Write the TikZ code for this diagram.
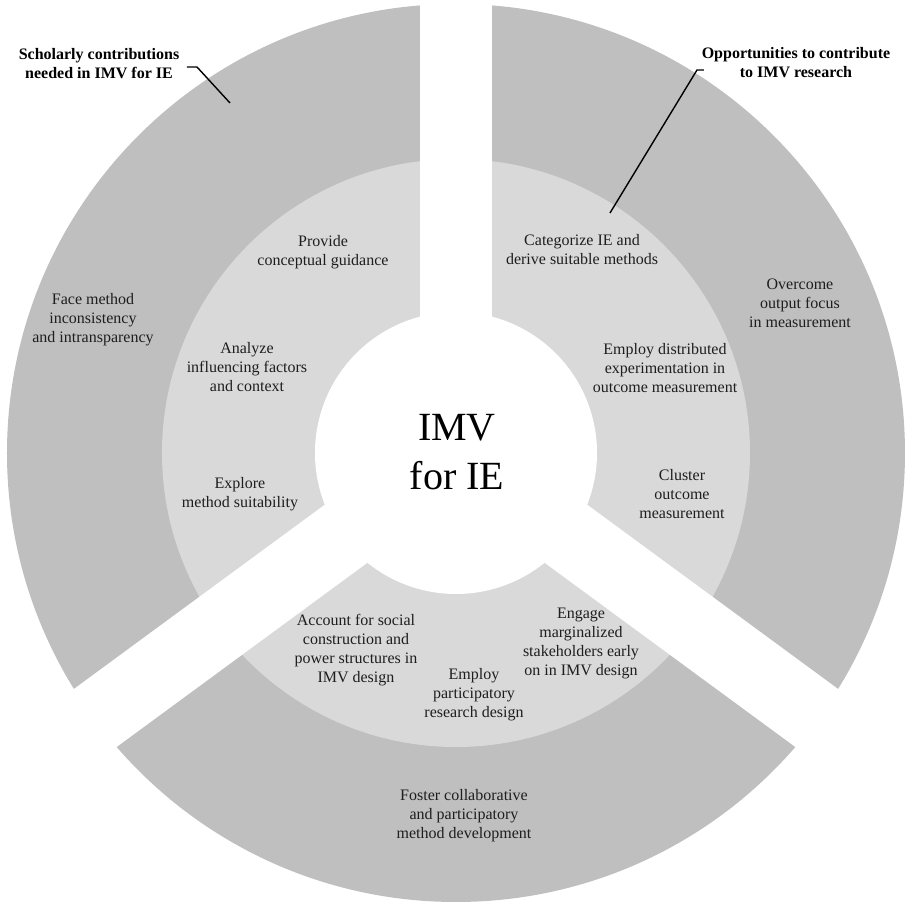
\documentclass[tikz,border=0pt]{standalone}
\usepackage{fontspec}
\setmainfont{Liberation Serif}
\definecolor{outerg}{RGB}{191,191,191}
\definecolor{midg}{RGB}{217,217,217}
\definecolor{ink}{RGB}{30,30,30}
\begin{document}
\begin{tikzpicture}[x=1pt,y=1pt,
  txt/.style={align=center, font=\fontsize{16}{19}\selectfont, text=ink, inner sep=0pt},
  lbl/.style={align=center, font=\fontsize{16}{19}\selectfont\bfseries, text=black, inner sep=0pt},
  gapline/.style={white, line width=72pt},
  leader/.style={draw=black, line width=1.4pt}]
\useasboundingbox (-456,-452) rectangle (450,453);
% rings
\fill[outerg] (0,0) circle (449);
\fill[midg] (0,0) circle (294);
\fill[white] (0,0) circle (141);
\draw[gapline] (0,0) -- (90:470);
\draw[gapline] (0,0) -- (216.3:470);
\draw[gapline] (0,0) -- (323.7:470);
% centre
\node[align=center, inner sep=0pt, font=\fontsize{40}{49}\selectfont, text=black] (core) at (1,1) {IMV\\for IE};
% labels
\node[lbl] (sch) at (-357,389) {Scholarly contributions\\needed in IMV for IE};
\node[lbl] (opp) at (340,390) {Opportunities to contribute\\to IMV research};
\coordinate (la1) at (-269,386);
\coordinate (la2) at (-259,386);
\coordinate (la3) at (-226,350);
\draw[leader] (la1) -- (la2) -- (la3);
\coordinate (lb1) at (248,383);
\coordinate (lb2) at (241,383);
\coordinate (lb3) at (154,240);
\draw[leader] (lb1) -- (lb2) -- (lb3);
% left sector
\node[txt] (face) at (-363,133) {Face method\\inconsistency\\and intransparency};
\node[txt] (prov) at (-133,201) {Provide\\conceptual guidance};
\node[txt] (anal) at (-209,86) {Analyze\\influencing factors\\and context};
\node[txt] (expl) at (-216,-41) {Explore\\method suitability};
% right sector
\node[txt] (cat) at (126,203) {Categorize IE and\\derive suitable methods};
\node[txt] (dist) at (209,85) {Employ distributed\\experimentation in\\outcome measurement};
\node[txt] (clus) at (226,-41) {Cluster\\outcome\\measurement};
\node[txt] (over) at (344,150) {Overcome\\output focus\\in measurement};
% bottom sector
\node[txt] (acc) at (-100,-197) {Account for social\\construction and\\power structures in\\IMV design};
\node[txt] (part) at (18,-242) {Employ\\participatory\\research design};
\node[txt] (eng) at (125,-190) {Engage\\marginalized\\stakeholders early\\on in IMV design};
\node[txt] (fost) at (8,-363) {Foster collaborative\\and participatory\\method development};
\end{tikzpicture}
\end{document}
